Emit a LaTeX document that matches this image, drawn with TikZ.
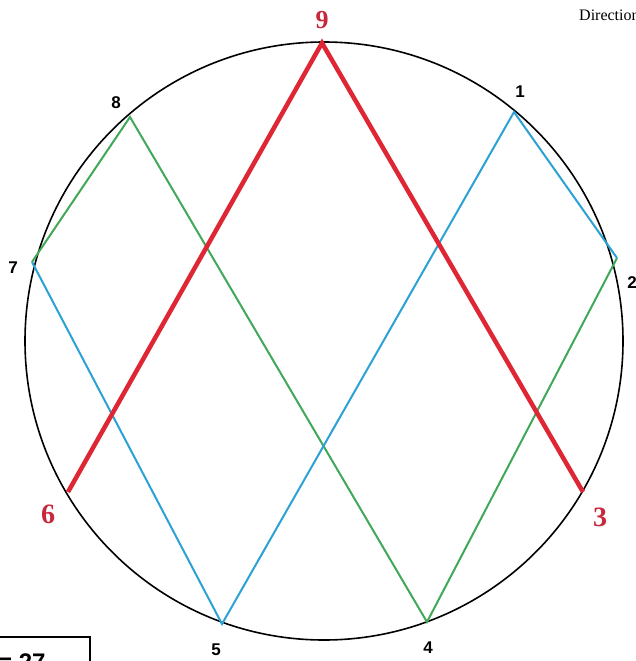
\documentclass[tikz,border=0pt]{standalone}
\usepackage{fontspec}
\setmainfont{Liberation Serif}
\newfontfamily\lsans{Liberation Sans}
\definecolor{cred}{RGB}{222,38,52}
\definecolor{cgreen}{RGB}{64,168,88}
\definecolor{cblue}{RGB}{44,162,212}
\definecolor{lred}{RGB}{200,40,60}
\tikzset{
  numlab/.style={font=\lsans\bfseries\fontsize{17}{17}\selectfont, text=black, inner sep=0pt},
  redlab/.style={font=\bfseries\fontsize{28}{28}\selectfont, text=lred, inner sep=0pt},
  redline/.style={draw=cred, line width=4.5pt, line join=miter},
  greenline/.style={draw=cgreen, line width=2pt},
  blueline/.style={draw=cblue, line width=2pt},
}
\begin{document}
\begin{tikzpicture}[x=1pt,y=-1pt]
\useasboundingbox (0,0) rectangle (636,661);
\clip (0,0) rectangle (636,661);
\fill[white] (0,0) rectangle (636,661);
\node[draw=black, line width=1.6pt, circle, minimum size=598pt, inner sep=0pt] (circ) at (324,341) {};
\coordinate (p1) at (514,112);
\coordinate (p2) at (617,258);
\coordinate (p3) at (583,492);
\coordinate (p4) at (427,622);
\coordinate (p5) at (222,624);
\coordinate (p6) at (68,492);
\coordinate (p7) at (32,262);
\coordinate (p8) at (130,117);
\coordinate (p9) at (322,43);
\draw[greenline] (p7) -- (p8) -- (p4) -- (p2);
\draw[blueline] (p7) -- (p5) -- (p1) -- (p2);
\draw[redline] (p6) -- (p9) -- (p3);
\node[redlab, font=\bfseries\fontsize{26}{26}\selectfont] (l9) at (322,20) {9};
\node[redlab] (l6) at (48,514) {6};
\node[redlab] (l3) at (600,517) {3};
\node[numlab] (l1) at (520,92) {1};
\node[numlab] (l2) at (632,283) {2};
\node[numlab] (l7) at (13,268) {7};
\node[numlab] (l8) at (116,103) {8};
\node[numlab] (l5) at (216,650) {5};
\node[numlab] (l4) at (428,648) {4};
\node[anchor=base west, font=\fontsize{16}{16}\selectfont, inner sep=0pt] (dir) at (579,21) {Direction};
\draw[line width=2pt] (-5,637) -- (90,637) -- (90,670) coordinate (boxc);
\node[anchor=base west, font=\lsans\bfseries\fontsize{24}{24}\selectfont, inner sep=0pt] (eq) at (-2,670) {= 27};
\end{tikzpicture}
\end{document}
